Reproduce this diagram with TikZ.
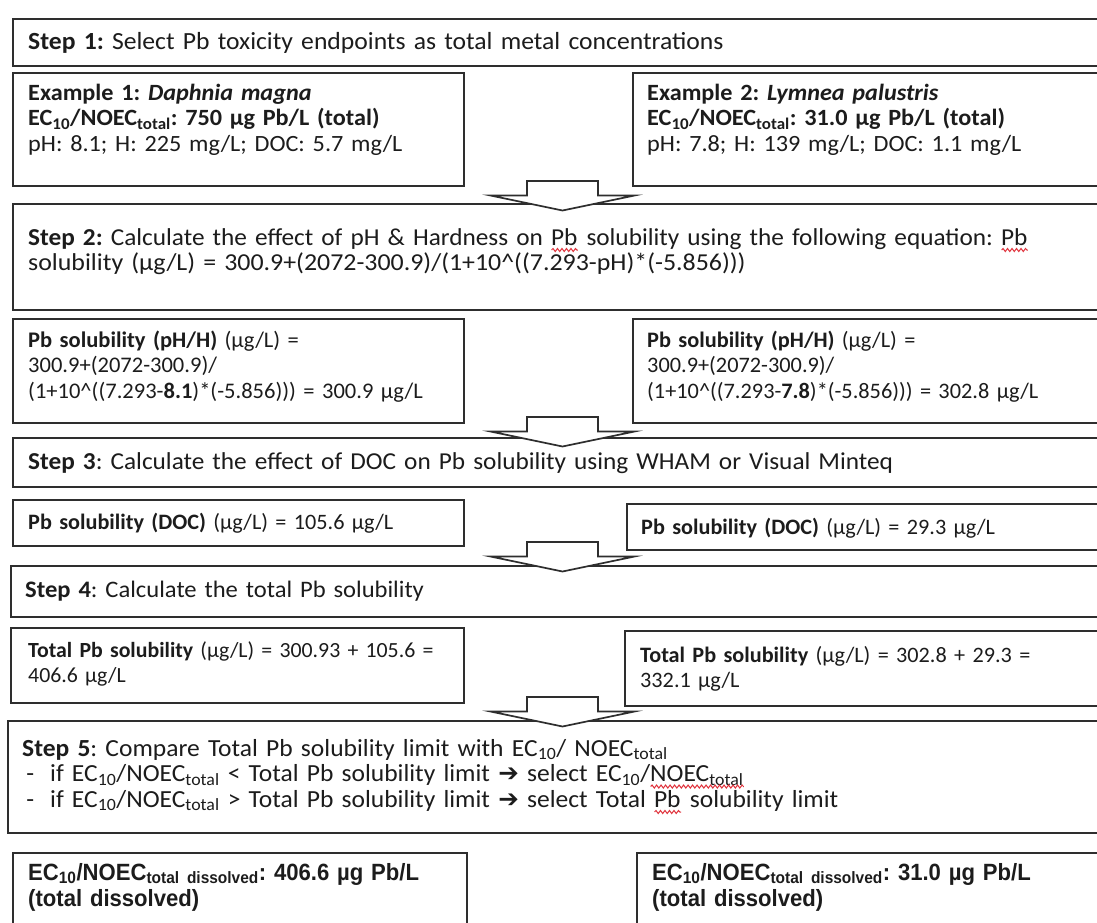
\documentclass[tikz,border=0pt]{standalone}
\usepackage{fontspec}
\usetikzlibrary{decorations.pathmorphing}
\setmainfont{Carlito}
\newfontfamily\stepfam{Carlito}[FakeStretch=1.04]
\newfontfamily\stepwide{Carlito}[FakeStretch=1.065]
\newfontfamily\exfam{Carlito}[FakeStretch=1.04]
\newfontfamily\subfam{Carlito}[FakeStretch=1.01]
\newfontfamily\arialfont{Liberation Sans}[FakeStretch=0.94]
\newfontfamily\symfont{DejaVu Sans}
\definecolor{ink}{HTML}{1C1C1C}
\definecolor{frame}{HTML}{2E2E2E}
\definecolor{spellred}{HTML}{E0303A}
% red wavy spell-check underline
\newsavebox\spellbox
\newlength\spellw
\newcommand\spell[1]{\sbox\spellbox{#1}\setlength\spellw{\wd\spellbox}%
  \leavevmode\rlap{\usebox\spellbox}%
  \tikz[baseline=0pt]\draw[spellred, line width=1pt, decorate,
     decoration={snake, amplitude=1.5pt, segment length=4.5pt}] (0pt,-5pt) -- (\spellw,-5pt);}
\newcommand\sub[1]{\textsubscript{#1}}
\newcommand\harrow{{\symfont\char"2794}}
\newcommand\stepfont[1][24.3]{\stepfam\frenchspacing\fontsize{#1}{25.5}\selectfont}
\newcommand\exfont{\exfam\frenchspacing\fontsize{23.3}{25.5}\selectfont}
\newcommand\subfont[1][22]{\subfam\frenchspacing\fontsize{#1}{25.5}\selectfont}
\newcommand\finfont{\arialfont\bfseries\frenchspacing\fontsize{23.5}{26.5}\selectfont}
\begin{document}
\begin{tikzpicture}[x=1pt,y=-1pt,
  box/.style={draw=frame, line width=1.7pt, fill=white, anchor=north west, inner sep=0pt},
  txt/.style={anchor=base west, inner sep=0pt, text width=1200pt, align=left, text=ink},
  barrow/.style={draw=frame, line width=1.7pt, fill=white, line join=miter}]
\useasboundingbox (0,0) rectangle (1097,922);
\clip (0,0) rectangle (1097,922);
\fill[white] (0,0) rectangle (1097,922);

% boxes
\node[box, minimum width=1098pt, minimum height=47pt]  (s1)   at (12,18)  {};
\node[box, minimum width=451pt,  minimum height=113pt] (ex1)  at (12,72)  {};
\node[box, minimum width=478pt,  minimum height=113pt] (ex2)  at (632,72) {};
\node[box, minimum width=1098pt, minimum height=106pt] (s2)   at (12,203) {};
\node[box, minimum width=451pt,  minimum height=104pt] (ph1)  at (12,318) {};
\node[box, minimum width=478pt,  minimum height=104pt] (ph2)  at (632,318) {};
\node[box, minimum width=1098pt, minimum height=49pt]  (s3)   at (12,437) {};
\node[box, minimum width=451pt,  minimum height=46pt]  (doc1) at (12,499) {};
\node[box, minimum width=484pt,  minimum height=46pt]  (doc2) at (626,503) {};
\node[box, minimum width=1100pt, minimum height=51pt]  (s4)   at (10,565) {};
\node[box, minimum width=453pt,  minimum height=75pt]  (tot1) at (10,627) {};
\node[box, minimum width=486pt,  minimum height=75pt]  (tot2) at (624,630) {};
\node[box, minimum width=1103pt, minimum height=112pt] (s5)   at (7,720)  {};
\node[box, minimum width=454pt,  minimum height=100pt] (fin1) at (12,852) {};
\node[box, minimum width=474pt,  minimum height=100pt] (fin2) at (636,852) {};

% texts
\node[txt, font={\stepfont[24.65]}] (t1) at (28,49)
  {\textbf{Step 1:} Select Pb toxicity endpoints as total metal concentrations};
\node[txt, font=\exfont] (te1) at (28,100)
  {\textbf{Example 1: \textit{Daphnia magna}}\\
   \textbf{EC\sub{10}/NOEC\sub{total}: 750 µg Pb/L (total)}\\
   pH: 8.1; H: 225 mg/L; DOC: 5.7 mg/L};
\node[txt, font=\exfont] (te2) at (647,100)
  {\textbf{Example 2: \textit{Lymnea palustris}}\\
   \textbf{EC\sub{10}/NOEC\sub{total}: 31.0 µg Pb/L (total)}\\
   pH: 7.8; H: 139 mg/L; DOC: 1.1 mg/L};
\node[txt, font=\stepfont] (t2) at (28,245)
  {\textbf{Step 2:} Calculate the effect of pH \& Hardness on \spell{Pb} solubility using the following equation: \spell{Pb}\\
   {\stepwide solubility (µg/L) = 300.9+(2072-300.9)/(1+10\textasciicircum((7.293-pH)*(-5.856)))}};
\node[txt, font={\subfont[22.3]}] (tp1) at (28,347)
  {\textbf{Pb solubility (pH/H)} (µg/L) =\\
   300.9+(2072-300.9)/\\
   (1+10\textasciicircum((7.293-\textbf{8.1})*(-5.856))) = 300.9 µg/L};
\node[txt, font={\subfont[22.1]}] (tp2) at (647,347)
  {\textbf{Pb solubility (pH/H)} (µg/L) =\\
   300.9+(2072-300.9)/\\
   (1+10\textasciicircum((7.293-\textbf{7.8})*(-5.856))) = 302.8 µg/L};
\node[txt, font=\stepfont] (t3) at (28,469)
  {\textbf{Step 3}: Calculate the effect of DOC on Pb solubility using WHAM or Visual Minteq};
\node[txt, font=\subfont] (td1) at (28,529)
  {\textbf{Pb solubility (DOC)} (µg/L) = 105.6 µg/L};
\node[txt, font=\subfont] (td2) at (641,534)
  {\textbf{Pb solubility (DOC)} (µg/L) = 29.3 µg/L};
\node[txt, font={\stepfont[23.65]}] (t4) at (25,597)
  {\textbf{Step 4}: Calculate the total Pb solubility};
\node[txt, font={\subfont[21.6]}] (tt1) at (28,657)
  {\textbf{Total Pb solubility} (µg/L) = 300.93 + 105.6 =\\
   406.6 µg/L};
\node[txt, font=\subfont] (tt2) at (640,662)
  {\textbf{Total Pb solubility} (µg/L) = 302.8 + 29.3 =\\
   332.1 µg/L};
\node[txt, font={\stepfont[24.55]}] (t5) at (22,756)
  {\textbf{Step 5}: Compare Total Pb solubility limit with EC\sub{10}/ NOEC\sub{total}\\
   \makebox[28pt][l]{\,-}if EC\sub{10}/NOEC\sub{total} < Total Pb solubility limit \harrow{} select EC\sub{10}/\spell{NOEC\sub{total}}\\
   \makebox[28pt][l]{\,-}if EC\sub{10}/NOEC\sub{total} > Total Pb solubility limit \harrow{} select Total \spell{Pb} solubility limit};
\node[txt, font=\finfont] (tf1) at (28,880)
  {EC\sub{10}/NOEC\sub{total dissolved}: 406.6 µg Pb/L\\
   (total dissolved)};
\node[txt, font=\finfont] (tf2) at (652,880)
  {EC\sub{10}/NOEC\sub{total dissolved}: 31.0 µg Pb/L\\
   (total dissolved)};

% block arrows between the stages
\foreach \n/\yt in {a1/181, a2/417, a3/542, a4/697}{
  \coordinate (\n) at (562.5,\yt);
  \filldraw[barrow] (\n) ++(-35.5,0) -- ++(71,0) -- ++(0,14.5) -- ++(36.5,0)
     -- ++(-72,15) -- ++(-72,-15) -- ++(36.5,0) -- cycle;
}
\end{tikzpicture}
\end{document}
